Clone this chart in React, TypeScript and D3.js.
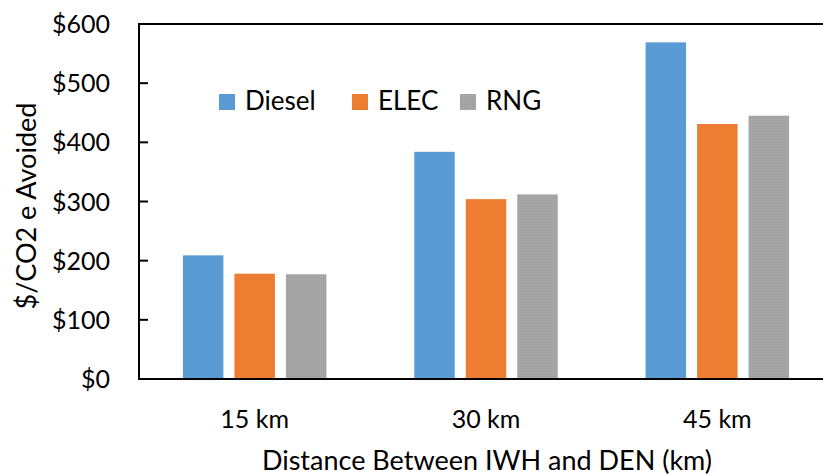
import * as d3 from "d3";

// ---- data -----------------------------------------------------------------
const categories = ["15 km", "30 km", "45 km"];
const seriesNames = ["Diesel", "ELEC", "RNG"];
const diesel = [209, 384, 569];
const elec = [178, 304, 431];
const rng = [177, 312, 445];
const yTicks = [0, 100, 200, 300, 400, 500, 600];

const seriesValues = [diesel, elec, rng];
const colors = ["#5B9BD5", "#ED7D31", "url(#rngTexture)"];

const W = 823;
const H = 475;
const FONT = "Lato, 'Open Sans', sans-serif";

const App = () => {
  // plot frame (right edge falls outside the picture, as in the source)
  const left = 139;
  const right = 833;
  const top = 24;
  const bottom = 379;

  const x0 = d3.scaleBand<string>().domain(categories).range([left, right]);
  const x1 = d3
    .scaleBand<string>()
    .domain(seriesNames)
    .range([0, x0.bandwidth()])
    .paddingInner(0.214)
    .paddingOuter(0.853);
  const y = d3.scaleLinear().domain([0, 600]).range([bottom, top]);

  // legend anchor x for each entry
  const legendX = d3.scaleOrdinal<string, number>().domain(seriesNames).range([219, 352, 460]);

  return (
    <svg
      width={W}
      height={H}
      style={{ position: "absolute", left: 0, top: 0, background: "#fff" }}
      fontFamily={FONT}
    >
      <defs>
        <pattern id="rngTexture" width={2} height={2} patternUnits="userSpaceOnUse">
          <rect width={2} height={2} fill="#A5A5A5" />
          <rect width={1} height={1} fill="#9C9C9C" />
          <rect x={1} y={1} width={1} height={1} fill="#ABABAB" />
        </pattern>
      </defs>

      {/* bars */}
      {categories.map((c, ci) => (
        <g key={c} transform={`translate(${x0(c)},0)`}>
          {seriesNames.map((s, si) => (
            <rect
              key={s}
              x={x1(s)}
              y={y(seriesValues[si][ci])}
              width={x1.bandwidth()}
              height={bottom - y(seriesValues[si][ci])}
              fill={colors[si]}
            />
          ))}
        </g>
      ))}

      {/* frame: top line + left axis + bottom axis */}
      <line x1={left} x2={right} y1={top} y2={top} stroke="#000" strokeWidth={2} />
      <line x1={right} x2={right} y1={top} y2={bottom} stroke="#000" strokeWidth={2} />
      <line x1={left} x2={left} y1={top - 1} y2={bottom + 1} stroke="#000" strokeWidth={2} />
      <line x1={left - 1} x2={right} y1={bottom} y2={bottom} stroke="#000" strokeWidth={2} />

      {/* y ticks (inside) and labels */}
      {yTicks.map((t) => (
        <g key={t}>
          {t > 0 && t < 600 && (
            <line x1={left} x2={left + 9} y1={y(t)} y2={y(t)} stroke="#000" strokeWidth={2} />
          )}
          <text
            x={110}
            y={y(t)}
            dy="0.36em"
            textAnchor="end"
            fontSize={25}
            fill="#000"
          >
            {d3.format("$,")(t)}
          </text>
        </g>
      ))}

      {/* x labels */}
      {categories.map((c) => (
        <text
          key={c}
          x={(x0(c) ?? 0) + x0.bandwidth() / 2}
          y={428}
          textAnchor="middle"
          fontSize={25}
          fill="#000"
        >
          {c}
        </text>
      ))}

      {/* axis titles */}
      <text x={487} y={470} textAnchor="middle" fontSize={27} fill="#000">
        Distance Between IWH and DEN (km)
      </text>
      <text
        transform={`translate(36,206) rotate(-90)`}
        textAnchor="middle"
        fontSize={27}
        fill="#000"
      >
        $/CO2 e Avoided
      </text>

      {/* legend */}
      {seriesNames.map((s, i) => (
        <g key={s} transform={`translate(${legendX(s)},94)`}>
          <rect width={16} height={16} fill={colors[i]} />
          <text x={26} y={16} fontSize={26} fill="#000">
            {s}
          </text>
        </g>
      ))}
    </svg>
  );
};

export default App;
